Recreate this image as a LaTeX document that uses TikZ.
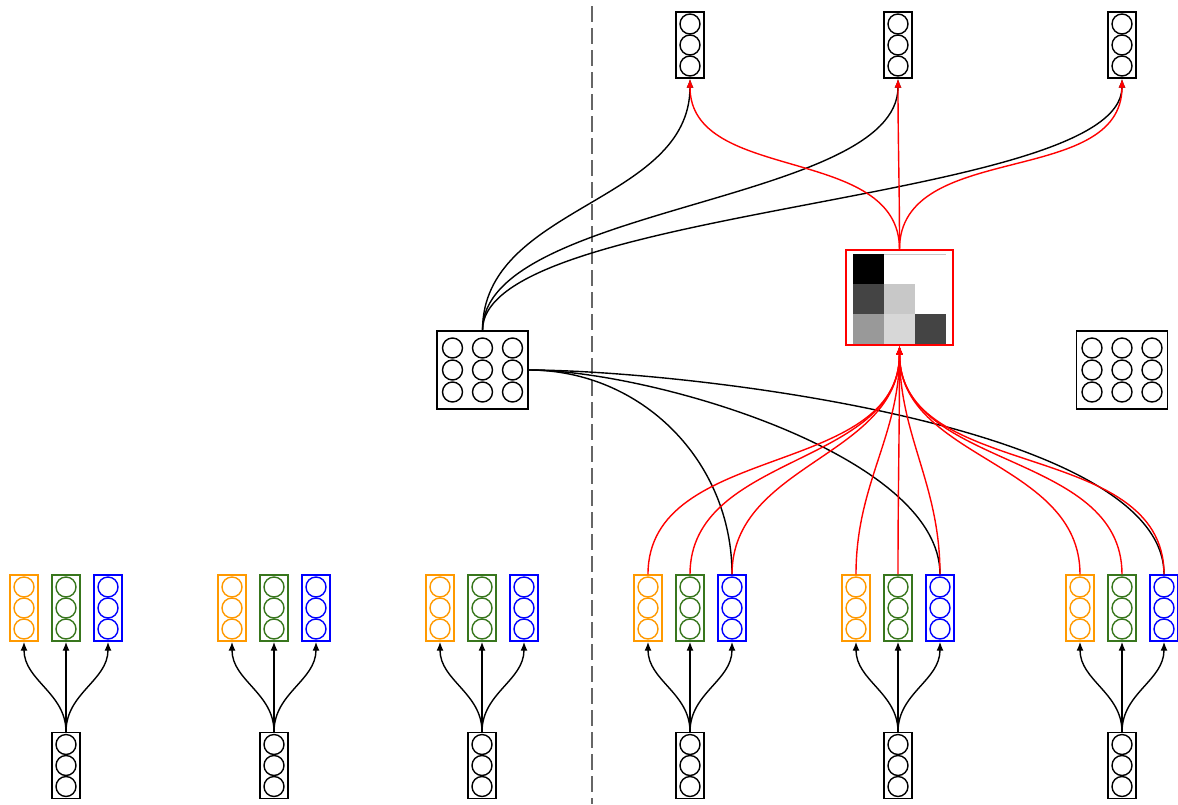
\documentclass[tikz,border=0pt]{standalone}
\usetikzlibrary{arrows.meta}
\definecolor{corange}{RGB}{255,153,0}
\definecolor{cgreen}{RGB}{56,118,29}
\definecolor{cblue}{RGB}{0,0,255}
\definecolor{gdark}{RGB}{68,68,68}
\definecolor{gmid}{RGB}{153,153,153}
\definecolor{glight}{RGB}{200,200,200}
\definecolor{glight2}{RGB}{215,215,215}
\definecolor{dashgray}{RGB}{102,102,102}
\tikzset{
  colbox/.style={draw, line width=1.4pt, minimum width=28pt, minimum height=66pt, inner sep=0pt},
  matbox/.style={draw, line width=1.4pt, minimum width=91pt, minimum height=78pt, inner sep=0pt},
  conn/.style={line width=1.4pt},
  tip/.style={-{Latex[length=9pt,width=7pt]}},
  redc/.style={conn, red},
}
\newcommand\mkcol[4]{% name, x, y, colour
  \node[colbox, draw=#4] (#1) at (#2,#3) {};
  \foreach \dy in {-21,0,21} \draw[#4, line width=1.4pt] ([yshift=\dy pt]#1.center) circle (10pt);
}
\newcommand\mkmat[3]{% name, x, y
  \node[matbox] (#1) at (#2,#3) {};
  \foreach \dx in {-30,0,30} \foreach \dy in {-22,0,22}
    \draw[line width=1.4pt] ([xshift=\dx pt, yshift=\dy pt]#1.center) circle (10pt);
}
\begin{document}
\begin{tikzpicture}[x=1pt,y=-1pt]
\useasboundingbox (0,0) rectangle (1178,804);
% dashed separator
\draw[dashgray, line width=1.6pt, dash pattern=on 16pt off 6pt] (592,6) -- (592,804);
% bottom input boxes and coloured boxes
\foreach \i/\x in {1/66,2/274,3/482,4/690,5/898,6/1122}{
  \mkcol{in\i}{\x}{765.5}{black}
  \mkcol{o\i}{\x-42}{608}{corange}
  \mkcol{g\i}{\x}{608}{cgreen}
  \mkcol{b\i}{\x+42}{608}{cblue}
  \draw[conn,tip] (in\i.north) to[out=90,in=-90] (o\i.south);
  \draw[conn,tip] (in\i.north) -- (g\i.south);
  \draw[conn,tip] (in\i.north) to[out=90,in=-90] (b\i.south);
}
% top output boxes
\mkcol{out1}{690}{45}{black}
\mkcol{out2}{898}{45}{black}
\mkcol{out3}{1122}{45}{black}
% matrices
\mkmat{mat}{482.5}{370}
\mkmat{mat2}{1122}{370}
% heat map
\node[draw=red, line width=1.4pt, minimum width=107pt, minimum height=95pt, inner sep=0pt] (heat) at (899.5,297.5) {};
\fill[black]  (853,254) rectangle (884,284);
\fill[gdark]  (853,284) rectangle (884,314);
\fill[glight] (884,284) rectangle (915,314);
\fill[gmid]   (853,314) rectangle (884,344);
\fill[glight2](884,314) rectangle (915,344);
\fill[gdark]  (915,314) rectangle (946,344);
\draw[glight, line width=0.6pt] (884,254.3) -- (946,254.3);
% black connectors
\foreach \k in {1,2,3}
  \draw[conn,tip] (mat.north) .. controls +(0,-125) and +(0,125) .. (out\k.south);
\foreach \k/\d in {4/113,5/120,6/150}
  \draw[conn] (mat.east) .. controls +(\d,0) and +(0,-\d) .. (b\k.north);
% red connectors
\foreach \k in {1,2,3}
  \draw[redc,tip] (heat.north) to[out=90,in=-90] (out\k.south);
\foreach \k in {4,5,6}{
  \draw[redc,tip] (o\k.north) to[out=90,in=-90] (heat.south);
  \draw[redc,tip] (g\k.north) to[out=90,in=-90] (heat.south);
  \draw[redc,tip] (b\k.north) to[out=90,in=-90] (heat.south);
}
\end{tikzpicture}
\end{document}
